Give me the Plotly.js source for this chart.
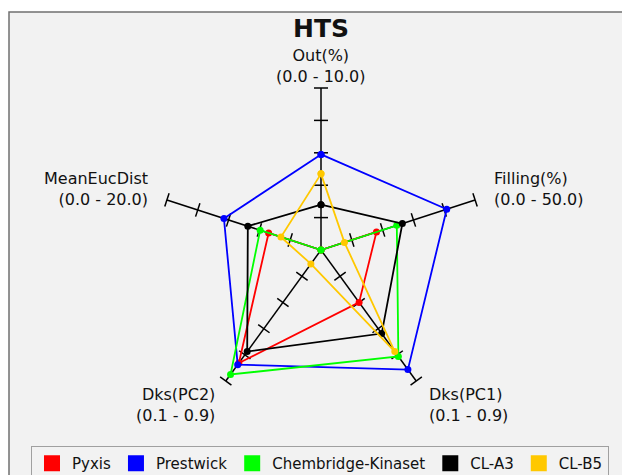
<!DOCTYPE html>
<html>
<head>
<meta charset="utf-8">
<script src="https://cdn.plot.ly/plotly-3.0.1.min.js"></script>
<style>html,body{margin:0;padding:0;background:#fff;}#chart{width:622px;height:475px;}</style>
</head>
<body>
<div id="chart"></div>
<script>
// Axes of the radar (clockwise from top)
const categories = ['Out(%)', 'Filling(%)', 'Dks(PC1)', 'Dks(PC2)', 'MeanEucDist'];
const axisMin = [0, 0, 0.1, 0.1, 0];
const axisMax = [10, 50, 0.9, 0.9, 20];
const axisRangeLabels = ['(0.0 - 10.0)', '(0.0 - 50.0)', '(0.1 - 0.9)', '(0.1 - 0.9)', '(0.0 - 20.0)'];
const tickFractions = [0.2, 0.4, 0.6, 0.8, 1.0];

// Series values (in each axis' own units)
const seriesNames = ['Pyxis', 'Prestwick', 'Chembridge-Kinaset', 'CL-A3', 'CL-B5'];
const pyxis      = [0.0, 18.0, 0.42, 0.79, 6.8];
const prestwick  = [5.9, 40.8, 0.83, 0.80, 12.6];
const chembridge = [0.0, 24.6, 0.75, 0.86, 7.9];
const clA3       = [2.8, 26.4, 0.61, 0.72, 9.5];
const clB5       = [4.7, 7.6, 0.72, 0.185, 5.2];
const seriesColors = ['#ff0000', '#0000ff', '#00ff00', '#000000', '#ffc800'];

const seriesValues = [pyxis, prestwick, chembridge, clA3, clB5];

function norm(vals) {
  return vals.map((v, i) => (v - axisMin[i]) / (axisMax[i] - axisMin[i]));
}

const traces = [];
// Axis spokes
categories.forEach(c => {
  traces.push({type: 'scatterpolar', mode: 'lines', r: [0, 1], theta: [c, c],
    line: {color: '#000', width: 1.5}, showlegend: false, hoverinfo: 'skip'});
});
// Tick marks (perpendicular to each spoke)
const screenAngle = [90, 18, -54, -126, 162];
categories.forEach((c, i) => {
  const a = ((-(screenAngle[i] + 90)) % 180 + 180) % 180;
  traces.push({type: 'scatterpolar', mode: 'markers',
    r: tickFractions, theta: tickFractions.map(() => c),
    marker: {symbol: 'line-ew', size: 10, angle: a, color: '#000', line: {color: '#000', width: 1.5}},
    showlegend: false, hoverinfo: 'skip'});
});
// Series polygons
seriesValues.forEach((vals, k) => {
  const r = norm(vals);
  traces.push({type: 'scatterpolar', mode: 'lines+markers',
    r: r.concat([r[0]]), theta: categories.concat([categories[0]]),
    line: {color: seriesColors[k], width: 1.8},
    marker: {color: seriesColors[k], size: 7},
    name: seriesNames[k], showlegend: false});
});
// Legend entries (square swatches)
seriesNames.forEach((n, k) => {
  traces.push({type: 'scatterpolar', mode: 'markers', r: [null], theta: [null],
    marker: {symbol: 'square', size: 16, color: seriesColors[k]},
    name: n, showlegend: true});
});

const W = 622, H = 475;
const px = x => x / W, py = y => 1 - y / H;
const lab = (i) => categories[i] + '<br>' + axisRangeLabels[i];
const annFont = {family: 'DejaVu Sans, sans-serif', size: 16, color: '#111'};
const annotations = [
  {x: px(321), y: py(66), xanchor: 'center', yanchor: 'middle', align: 'center', text: lab(0)},
  {x: px(492), y: py(189), xanchor: 'left', yanchor: 'middle', align: 'left', text: lab(1)},
  {x: px(427), y: py(405), xanchor: 'left', yanchor: 'middle', align: 'left', text: lab(2)},
  {x: px(217), y: py(405), xanchor: 'right', yanchor: 'middle', align: 'right', text: lab(3)},
  {x: px(150), y: py(189), xanchor: 'right', yanchor: 'middle', align: 'right', text: lab(4)}
].map(a => Object.assign({xref: 'paper', yref: 'paper', showarrow: false, font: annFont}, a));

const layout = {
  width: W, height: H,
  margin: {l: 0, r: 0, t: 0, b: 0, autoexpand: false},
  paper_bgcolor: '#ffffff',
  title: {text: '<b>HTS</b>', font: {family: 'DejaVu Sans, sans-serif', size: 25, color: '#111'},
    x: px(321), xanchor: 'center', y: py(28), yanchor: 'middle'},
  shapes: [{type: 'rect', xref: 'paper', yref: 'paper', x0: px(9), x1: 1.01, y0: -0.01, y1: py(12),
    fillcolor: '#f2f2f2', line: {color: '#707070', width: 1.5}, layer: 'below'}],
  polar: {
    domain: {x: [px(159), px(483)], y: [py(412), py(88)]},
    bgcolor: 'rgba(0,0,0,0)',
    radialaxis: {range: [0, 1], showline: false, showgrid: false, showticklabels: false, ticks: ''},
    angularaxis: {type: 'category', categoryarray: categories, rotation: 90, direction: 'clockwise',
      showline: false, showgrid: false, showticklabels: false, ticks: ''}
  },
  showlegend: true,
  legend: {orientation: 'h', x: px(320), xanchor: 'center', y: py(446), yanchor: 'top',
    bgcolor: '#f2f2f2', bordercolor: '#a0a0a0', borderwidth: 1,
    font: {family: 'DejaVu Sans, sans-serif', size: 15, color: '#111'}, itemsizing: 'trace'},
  annotations: annotations,
  hovermode: false
};

Plotly.newPlot('chart', traces, layout, {displayModeBar: false, staticPlot: true});
</script>
</body>
</html>
